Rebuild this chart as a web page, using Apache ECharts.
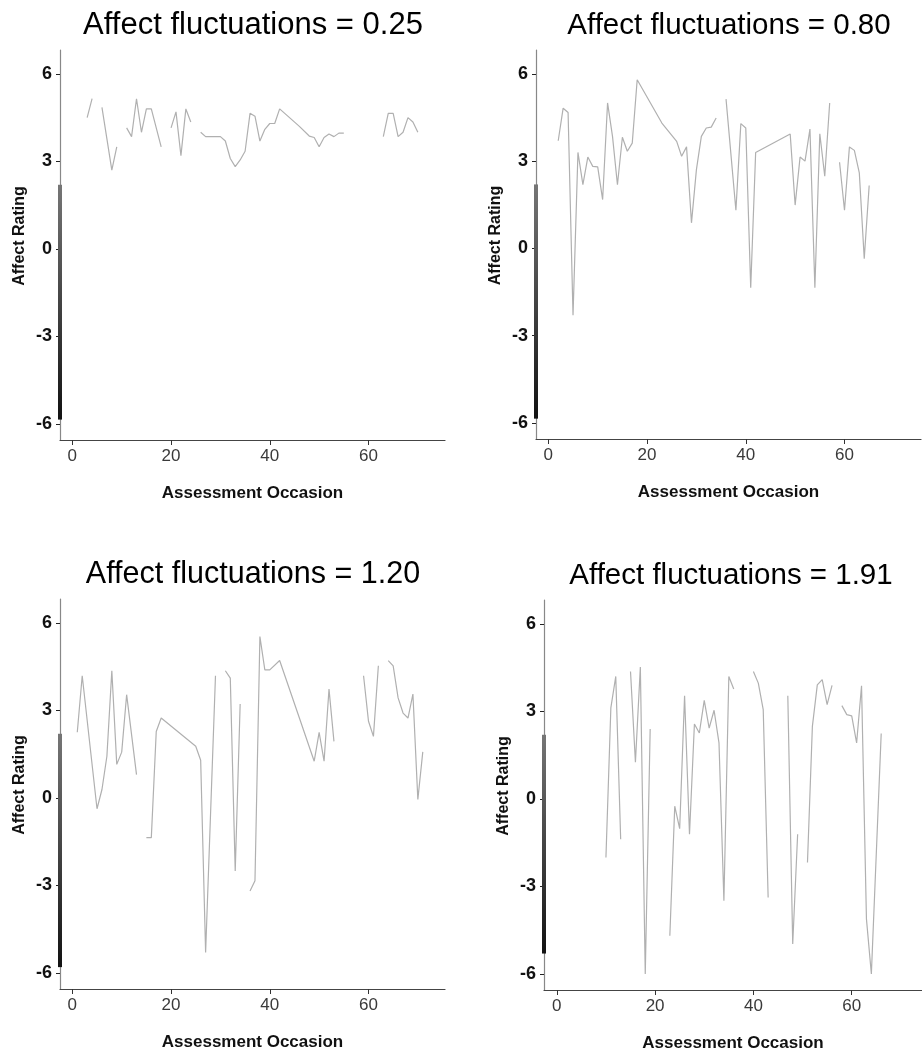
<!DOCTYPE html>
<html><head><meta charset="utf-8">
<script src="https://cdn.jsdelivr.net/npm/echarts@6/dist/echarts.min.js"></script>
<style>html,body{margin:0;padding:0;background:#fff}#c{width:922px;height:1053px}</style>
</head><body><div id="c"></div>
<script>
// ---- data ----
const panelTitles = ['Affect fluctuations = 0.25', 'Affect fluctuations = 0.80', 'Affect fluctuations = 1.20', 'Affect fluctuations = 1.91'];
const xTicks = [0, 20, 40, 60];
const yTicks = [-6, -3, 0, 3, 6];
const xName = 'Assessment Occasion';
const yName = 'Affect Rating';

const p1X = [3,4,5,6,8,9,10,11,12,13,14,15,16,18,19,20,21,22,23,24,25,26,27,30,31,32,33,34,35,36,37,38,39,40,41,42,46,48,49,50,51,52,53,54,55,58,63,64,65,66,67,68,69,70];
const p1Y = [4.5,5.15,null,4.85,2.7,3.5,null,4.15,3.85,5.15,4.0,4.8,4.8,3.5,null,4.15,4.7,3.2,4.8,4.35,null,4.0,3.85,3.85,3.7,3.1,2.82,3.05,3.35,4.65,4.55,3.7,4.1,4.3,4.3,4.8,4.2,3.87,3.82,3.5,3.82,3.94,3.85,3.97,3.97,null,3.85,4.65,4.65,3.85,4.0,4.5,4.35,4.0];

const p2X = [2,3,4,5,6,7,8,9,10,11,12,13,14,15,16,17,18,23,26,27,28,29,30,31,32,33,34,35,36,38,39,40,41,42,49,50,51,52,53,54,55,56,57,58,59,60,61,62,63,64,65];
const p2Y = [3.7,4.82,4.67,-2.3,3.3,2.19,3.14,2.82,2.8,1.68,5.0,3.85,2.19,3.82,3.34,3.62,5.8,4.31,3.68,3.17,3.49,0.88,2.71,3.85,4.14,4.17,4.48,null,5.13,1.31,4.29,4.14,-1.35,3.3,3.93,1.49,3.14,3.0,4.1,-1.35,3.94,2.48,5.0,null,2.96,1.31,3.49,3.37,2.6,-0.35,2.16];

const p3X = [1,2,5,6,7,8,9,10,11,13,14,15,16,17,18,25,26,27,29,30,31,32,33,34,35,36,37,38,39,40,42,46,49,50,51,52,53,58,59,60,61,62,63,64,65,66,67,68,69,70,71];
const p3Y = [2.25,4.19,-0.37,0.29,1.43,4.36,1.15,1.57,3.54,0.8,null,-1.36,-1.36,2.28,2.74,1.77,1.29,-5.3,4.19,null,4.36,4.11,-2.5,3.22,null,-3.19,-2.84,5.53,4.39,4.39,4.71,2.74,1.26,2.25,1.26,3.73,1.94,null,4.19,2.63,2.11,4.53,null,4.71,4.53,3.43,2.91,2.74,3.56,-0.05,1.58];

const p4X = [10,11,12,13,14,15,16,17,18,19,20,23,24,25,26,27,28,29,30,31,32,33,34,35,36,37,40,41,42,43,44,47,48,49,50,51,52,53,54,55,56,57,58,59,60,61,62,63,64,66];
const p4Y = [-2.01,3.12,4.2,-1.38,null,4.37,1.26,4.52,-6.0,2.4,null,-4.69,-0.25,-1.02,3.54,-1.21,2.57,2.26,3.38,2.43,3.04,1.92,-3.49,4.2,3.77,null,4.37,3.97,3.06,-3.38,null,3.54,-4.97,-1.21,null,-2.18,2.49,3.91,4.09,3.23,3.89,null,3.2,2.89,2.85,1.92,3.88,-4.12,-6.0,2.24];

const panelsX = [p1X, p2X, p3X, p4X];
const panelsY = [p1Y, p2Y, p3Y, p4Y];

// ---- layout / style ----
const FONT = "'Liberation Sans', Arial, sans-serif";
const Y_MIN = -6.55, Y_MAX = 6.82;
const xRange = [[-2.5, 75.5], [-2.5, 75.5], [-2.5, 75.5], [-2.6, 74.3]];
const grids = [
  {left: 60, top: 50, width: 385, height: 390},
  {left: 536, top: 50, width: 385, height: 389},
  {left: 60, top: 599, width: 385, height: 390},
  {left: 544, top: 600, width: 378, height: 390}
];
const titleCenter = [253, 729, 253, 731];
const titleTop = [5, 6, 554, 556];
const titleSize = [31, 29.5, 30.5, 29.5];
// decorative dark band drawn over the lower part of each y axis line
const bandRange = [[2.2, -5.85], [2.2, -5.85], [2.2, -5.8], [2.2, -5.3]];

const option = {
  animation: false,
  backgroundColor: '#fff',
  title: [], grid: [], xAxis: [], yAxis: [], series: []
};

grids.forEach((g, i) => {
  option.grid.push(Object.assign({containLabel: false}, g));
  option.title.push({
    text: panelTitles[i],
    left: titleCenter[i] - 5,
    top: titleTop[i],
    textAlign: 'center',
    textStyle: {fontFamily: FONT, fontSize: titleSize[i], fontWeight: 'normal', color: '#000'}
  });
  option.xAxis.push({
    type: 'value', gridIndex: i, min: xRange[i][0], max: xRange[i][1],
    splitLine: {show: false},
    axisLine: {show: true, onZero: false, lineStyle: {color: '#444', width: 1.2}},
    axisTick: {show: true, length: 5, customValues: xTicks, lineStyle: {color: '#333'}},
    axisLabel: {customValues: xTicks, fontFamily: FONT, fontSize: 17, color: '#3a3a3a', margin: 8},
    name: xName, nameLocation: 'middle', nameGap: 45,
    nameTextStyle: {fontFamily: FONT, fontSize: 17, fontWeight: 'bold', color: '#111'}
  });
  option.yAxis.push({
    type: 'value', gridIndex: i, min: Y_MIN, max: Y_MAX,
    splitLine: {show: false},
    axisLine: {show: true, onZero: false, lineStyle: {color: '#888', width: 1.2}},
    axisTick: {show: true, length: 4, customValues: yTicks, lineStyle: {color: '#222'}},
    axisLabel: {customValues: yTicks, fontFamily: FONT, fontSize: 18, fontWeight: 'bold', color: '#111', margin: 8},
    name: yName, nameLocation: 'middle', nameGap: 32,
    nameTextStyle: {fontFamily: FONT, fontSize: 16, fontWeight: 'bold', color: '#111', padding: [0, 0, 0, 18]}
  });
  const xs = panelsX[i], ys = panelsY[i];
  option.series.push({
    type: 'line', xAxisIndex: i, yAxisIndex: i,
    data: xs.map((x, k) => [x, ys[k] === null ? '-' : ys[k]]),
    showSymbol: false, symbol: 'none', connectNulls: false,
    lineStyle: {color: '#b0b0b0', width: 1.2},
    silent: true
  });
  option.series.push({
    type: 'line', xAxisIndex: i, yAxisIndex: i,
    data: [[xRange[i][0], bandRange[i][0]], [xRange[i][0], bandRange[i][1]]],
    showSymbol: false, symbol: 'none', clip: false, silent: true, z: 5,
    lineStyle: {width: 4, cap: 'butt', color: {type: 'linear', x: 0, y: 0, x2: 0, y2: 1,
      colorStops: [{offset: 0, color: '#777'}, {offset: 1, color: '#111'}]}}
  });
});

const chart = echarts.init(document.getElementById('c'), null, {renderer: 'canvas'});
chart.setOption(option);
</script></body></html>
